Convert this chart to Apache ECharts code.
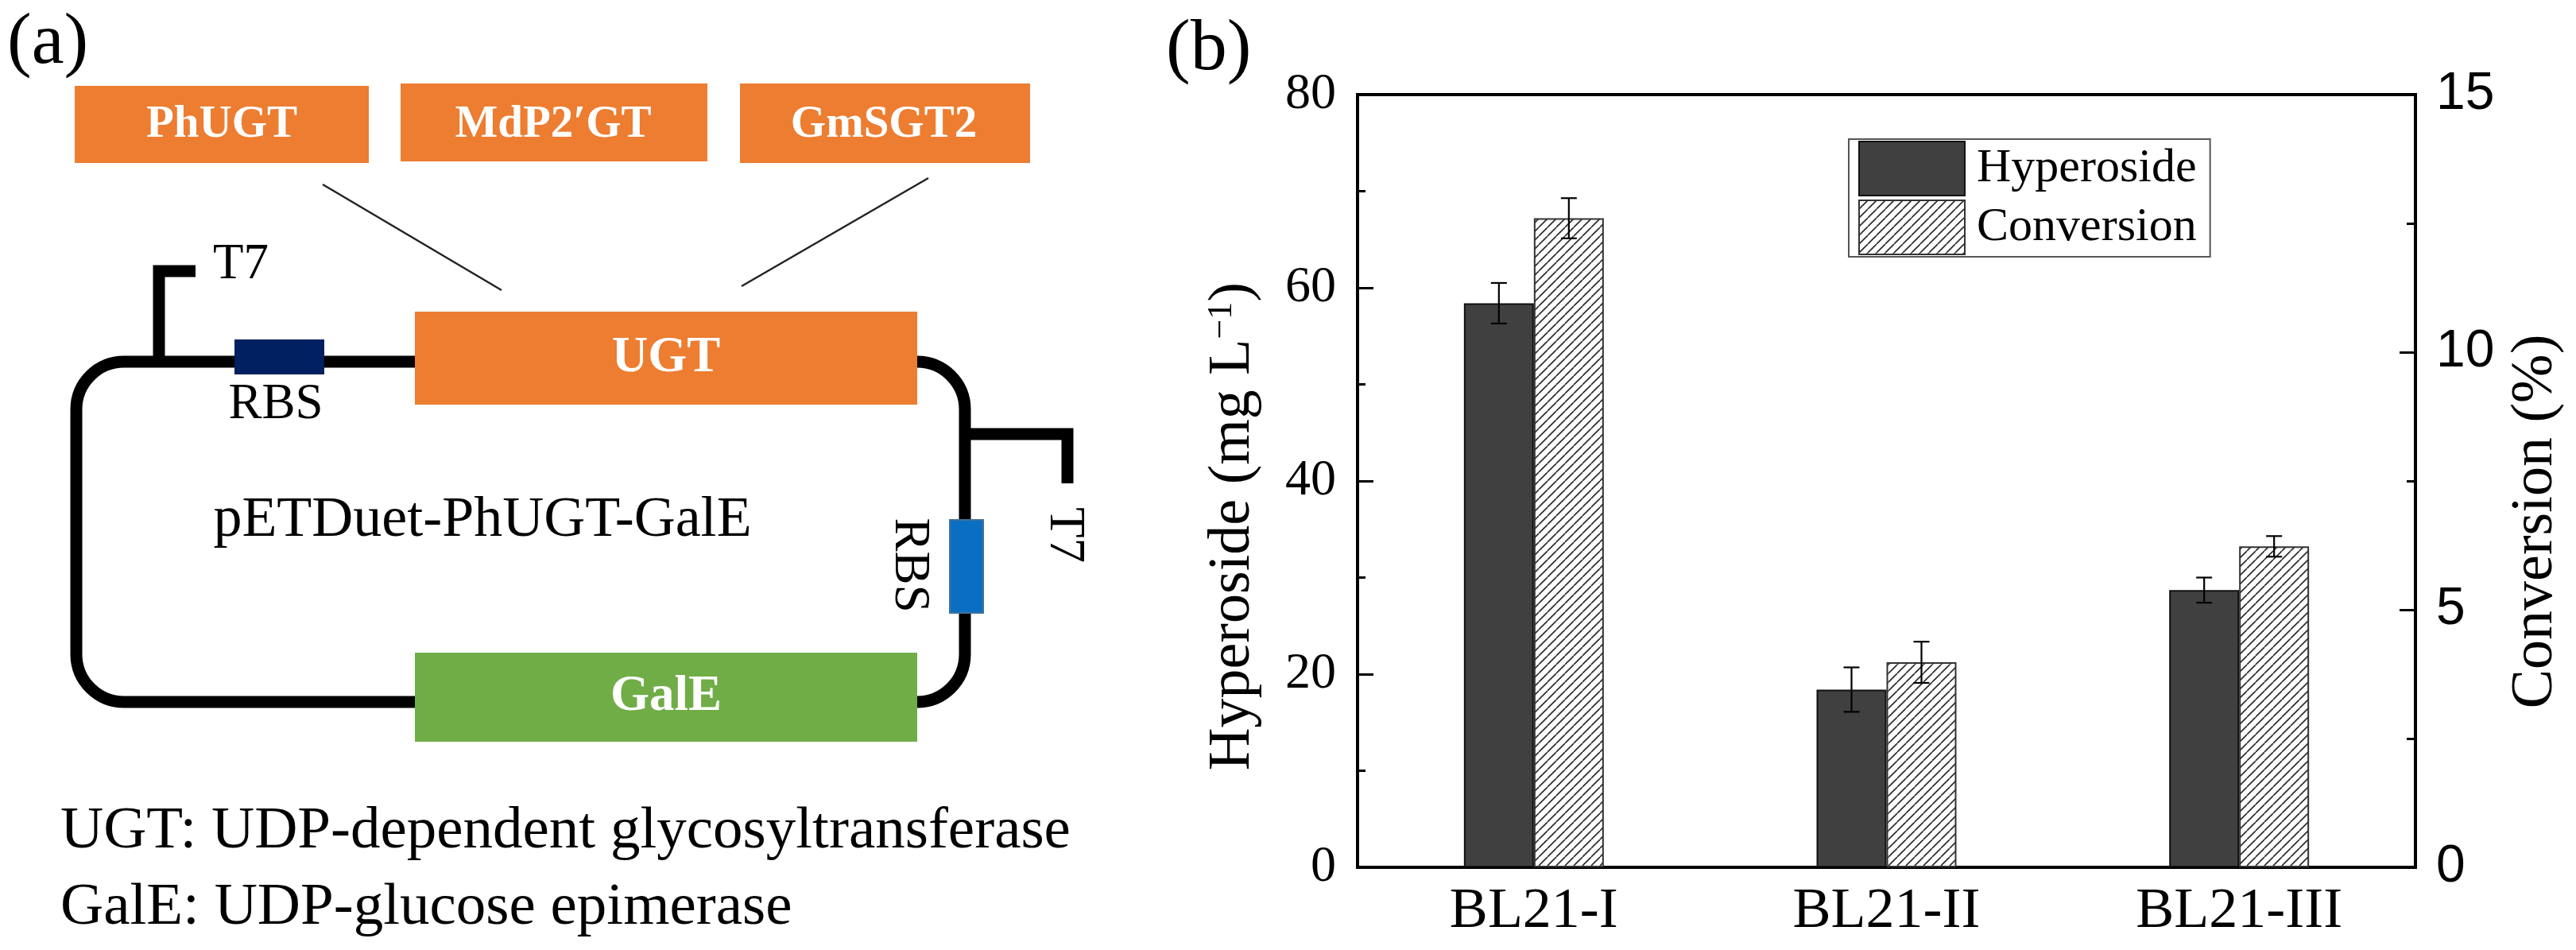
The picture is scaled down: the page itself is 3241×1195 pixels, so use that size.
<!DOCTYPE html>
<html>
<head>
<meta charset="utf-8">
<script src="https://cdn.jsdelivr.net/npm/echarts@6/dist/echarts.min.js"></script>
<style>
html,body{margin:0;padding:0;background:#fff;}
#main{width:3241px;height:1195px;}
</style>
</head>
<body>
<div id="main"></div>
<script>
// ---- data ----
const categories = ['BL21-I', 'BL21-II', 'BL21-III'];
const hyperoside = [58.4, 18.4, 28.7];
const hyperosideErr = [2.1, 2.3, 1.3];
const conversion = [12.6, 3.98, 6.23];
const conversionErr = [0.39, 0.40, 0.20];
const seriesNames = ['Hyperoside', 'Conversion'];

// ---- styles ----
const SERIF = 'Liberation Serif';
const SANS = 'Liberation Sans';
const BAR_W = 88;

function makeHatch() {
  const s = 11;
  const c = document.createElement('canvas');
  c.width = s; c.height = s;
  const g = c.getContext('2d');
  g.fillStyle = '#fff';
  g.fillRect(0, 0, s, s);
  g.strokeStyle = '#2a2a2a';
  g.lineWidth = 1.6;
  g.beginPath();
  for (const k of [-1, 0, 1]) { g.moveTo(k * s, s); g.lineTo(k * s + s, 0); }
  g.stroke();
  return c;
}
const hatch = makeHatch();

function errRender(sign) {
  return function (params, api) {
    const i = api.value(0), v = api.value(1), e = api.value(2);
    const hi = api.coord([i, v + e]);
    const lo = api.coord([i, v - e]);
    const x = hi[0] + sign * BAR_W / 2;
    const cap = 10;
    const st = { stroke: '#000', lineWidth: 2.2 };
    return {
      type: 'group',
      children: [
        { type: 'line', shape: { x1: x, y1: hi[1], x2: x, y2: lo[1] }, style: st },
        { type: 'line', shape: { x1: x - cap, y1: hi[1], x2: x + cap, y2: hi[1] }, style: st },
        { type: 'line', shape: { x1: x - cap, y1: lo[1], x2: x + cap, y2: lo[1] }, style: st }
      ]
    };
  };
}

function txt(t, x, y, size, opts) {
  opts = opts || {};
  return {
    type: 'text', x: x, y: y, rotation: opts.rotation || 0, z: 10,
    style: {
      text: t, fontSize: size, fontFamily: SERIF, fontWeight: opts.bold ? 'bold' : 'normal',
      fill: opts.color || '#000',
      align: opts.align || 'center', textAlign: opts.align || 'center',
      verticalAlign: 'middle', textVerticalAlign: 'middle'
    }
  };
}
function rect(x, y, w, h, fill, extra) {
  return Object.assign({ type: 'rect', shape: { x: x, y: y, width: w, height: h }, style: { fill: fill }, z: 5 }, extra || {});
}
const ORANGE = '#ED7D31', GREEN = '#70AD47';

const graphics = [
  // panel labels
  txt('(a)', 9, 55, 92, { align: 'left' }),
  txt('(b)', 1467, 63, 92, { align: 'left' }),
  // loop
  { type: 'rect', shape: { x: 96, y: 455, width: 1118, height: 428, r: 60 }, style: { fill: 'none', stroke: '#000', lineWidth: 15 }, z: 3 },
  // promoters
  { type: 'polyline', shape: { points: [[200, 455], [200, 341], [246, 341]] }, style: { fill: 'none', stroke: '#000', lineWidth: 15 }, z: 3 },
  { type: 'polyline', shape: { points: [[1214, 546], [1343, 546], [1343, 608]] }, style: { fill: 'none', stroke: '#000', lineWidth: 15 }, z: 3 },
  // RBS boxes
  rect(295, 427, 113, 44, '#002060'),
  rect(1195, 654, 42, 117, '#0A6FC2', { style: { fill: '#0A6FC2', stroke: '#41719C', lineWidth: 2 } }),
  // gene boxes
  rect(522, 392, 632, 117, ORANGE),
  rect(522, 821, 632, 112, GREEN),
  rect(94, 108, 370, 97, ORANGE),
  rect(504, 105, 386, 98, ORANGE),
  rect(931, 105, 365, 100, ORANGE),
  // connector lines
  { type: 'line', shape: { x1: 406, y1: 232, x2: 631, y2: 365 }, style: { stroke: '#222', lineWidth: 2.5 }, z: 3 },
  { type: 'line', shape: { x1: 1168, y1: 224, x2: 933, y2: 360 }, style: { stroke: '#222', lineWidth: 2.5 }, z: 3 },
  // texts
  txt('PhUGT', 279, 157, 57, { bold: true, color: '#fff' }),
  txt('MdP2\u2032GT', 696, 157, 57, { bold: true, color: '#fff' }),
  txt('GmSGT2', 1112, 157, 57, { bold: true, color: '#fff' }),
  txt('T7', 268, 333, 63, { align: 'left' }),
  txt('RBS', 347, 509, 63),
  txt('UGT', 838, 451, 63, { bold: true, color: '#fff' }),
  txt('pETDuet-PhUGT-GalE', 607, 655, 72),
  txt('GalE', 838, 877, 63, { bold: true, color: '#fff' }),
  txt('RBS', 1144, 711, 63, { rotation: -Math.PI / 2 }),
  txt('T7', 1339, 673, 63, { rotation: -Math.PI / 2 }),
  txt('UGT: UDP-dependent glycosyltransferase', 76, 1046, 75, { align: 'left' }),
  txt('GalE: UDP-glucose epimerase', 76, 1142, 75, { align: 'left' })
];

const chart = echarts.init(document.getElementById('main'), null, { renderer: 'canvas' });
const option = {
  backgroundColor: '#fff',
  animation: false,
  graphic: graphics,
  grid: { left: 1708, right: 202, top: 119, bottom: 104, show: true, borderColor: '#000', borderWidth: 4 },
  legend: {
    orient: 'vertical', left: 2326, top: 175,
    icon: 'rect',
    itemWidth: 133, itemHeight: 68, itemGap: 4,
    padding: [2, 17, 2, 12],
    borderColor: '#555', borderWidth: 2,
    textStyle: { fontFamily: SERIF, fontSize: 60, color: '#000', padding: [0, 0, 0, 10] },
    data: seriesNames
  },
  xAxis: {
    type: 'category', data: categories,
    axisLine: { lineStyle: { color: '#000', width: 4 } },
    axisTick: { show: false },
    axisLabel: { fontFamily: SERIF, fontSize: 72, color: '#000', margin: 20 }
  },
  yAxis: [
    {
      type: 'value', min: 0, max: 80, interval: 20, position: 'left',
      name: '{t|Hyperoside (mg L}{s|\u22121}{t|)}',
      nameLocation: 'middle', nameGap: 119,
      nameTextStyle: {
        color: '#000', padding: [0, 114, 0, 0],
        rich: {
          t: { fontFamily: SERIF, fontSize: 74, color: '#000' },
          s: { fontFamily: SERIF, fontSize: 44, color: '#000', verticalAlign: 'top' }
        }
      },
      axisLine: { show: true, lineStyle: { color: '#000', width: 4 } },
      axisTick: { show: true, inside: true, length: 20, lineStyle: { color: '#000', width: 3 } },
      minorTick: { show: true, splitNumber: 2, length: 10, lineStyle: { color: '#000', width: 3 } },
      splitLine: { show: false },
      axisLabel: { fontFamily: SERIF, fontSize: 64, color: '#000', margin: 27 }
    },
    {
      type: 'value', min: 0, max: 15, interval: 5, position: 'right',
      name: 'Conversion (%)',
      nameLocation: 'middle', nameGap: 115,
      nameTextStyle: { fontFamily: SERIF, fontSize: 74, color: '#000', padding: [0, 102, 0, 0] },
      axisLine: { show: true, lineStyle: { color: '#000', width: 4 } },
      axisTick: { show: true, inside: true, length: 20, lineStyle: { color: '#000', width: 3 } },
      minorTick: { show: true, splitNumber: 2, length: 11, lineStyle: { color: '#000', width: 3 } },
      splitLine: { show: false },
      axisLabel: { fontFamily: SANS, fontSize: 66, color: '#000', margin: 26 }
    }
  ],
  series: [
    {
      name: seriesNames[0], type: 'bar', yAxisIndex: 0, data: hyperoside,
      barWidth: BAR_W, barGap: '0%',
      itemStyle: { color: '#404040', borderColor: '#111', borderWidth: 2 }
    },
    {
      name: seriesNames[1], type: 'bar', yAxisIndex: 1, data: conversion,
      barWidth: BAR_W, barGap: '0%',
      itemStyle: { color: { image: hatch, repeat: 'repeat' }, borderColor: '#333', borderWidth: 2 }
    },
    {
      name: 'errH', type: 'custom', yAxisIndex: 0, z: 5,
      renderItem: errRender(-1),
      encode: { x: 0, y: 1 },
      data: hyperoside.map((v, i) => [i, v, hyperosideErr[i]])
    },
    {
      name: 'errC', type: 'custom', yAxisIndex: 1, z: 5,
      renderItem: errRender(1),
      encode: { x: 0, y: 1 },
      data: conversion.map((v, i) => [i, v, conversionErr[i]])
    }
  ]
};
chart.setOption(option);
</script>
</body>
</html>
